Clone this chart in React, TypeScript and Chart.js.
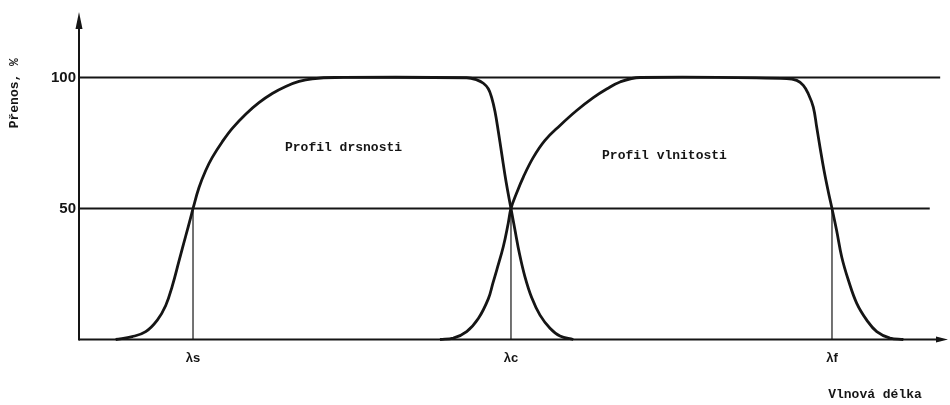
import React, { useEffect, useRef } from "react";
import { Chart, registerables } from "chart.js";

Chart.register(...registerables);

// Tick positions and labels
const xTickValues = [13.12, 49.71, 86.65];
const xTickLabels = ["λs", "λc", "λf"];
const yTickValues = [50, 100];

// Roughness profile (Profil drsnosti)
const roughX = [4.22, 6.13, 7.68, 9.01, 9.98, 10.74, 11.51, 12.28, 12.85, 13.12, 13.81, 14.58, 15.34, 16.49, 17.64, 19.18, 20.71, 22.24, 23.79, 25.32, 26.85, 29.46, 44.61, 45.77, 46.53, 47.1, 47.49, 47.87, 48.25, 48.64, 49.14, 49.71, 50.17, 50.67, 51.32, 52.09, 53.05, 54.2, 55.35, 56.88];
const roughY = [0, 1.1, 3.0, 7.4, 13.0, 20.5, 30.0, 39.5, 46.5, 50, 58.0, 64.5, 69.5, 75.5, 80.6, 86.0, 90.4, 93.9, 96.6, 98.5, 99.5, 100, 99.9, 99.1, 97.8, 95.7, 92.3, 87.0, 79.5, 71.0, 60.3, 50, 41.8, 33.0, 23.9, 16.0, 9.3, 4.3, 1.3, 0];

// Waviness profile (Profil vlnitosti)
const waveX = [41.54, 43.07, 44.61, 45.95, 47.1, 47.63, 48.07, 48.83, 49.4, 49.71, 50.37, 51.13, 52.28, 53.62, 55.35, 57.27, 59.18, 60.72, 62.26, 64.56, 81.44, 82.59, 83.35, 83.92, 84.5, 84.89, 85.27, 85.73, 86.22, 86.65, 87.19, 87.77, 88.53, 89.5, 90.65, 91.8, 93.33, 94.86];
const waveY = [0, 0.5, 3.0, 8.0, 15.5, 21.5, 26.5, 35.5, 44.5, 50, 56.0, 62.0, 69.5, 76.0, 81.7, 87.4, 92.3, 95.6, 98.3, 100, 99.6, 98.9, 97.0, 93.8, 88.7, 81.1, 73.4, 64.6, 56.5, 50, 41.5, 31.5, 22.7, 13.8, 7.4, 3.0, 0.5, 0];

// Horizontal reference levels and where they end
const levelValues = [100, 50];
const levelEnds = [99.1, 97.9];

// Annotation texts
const regionLabels = ["Profil drsnosti", "Profil vlnitosti"];
const regionLabelX = [30.44, 67.37];
const regionLabelY = [73.3, 70.3];
const xAxisTitle = "Vlnová délka";
const yAxisTitle = "Přenos, %";

const INK = "#151515";

const axesPlugin = {
  id: "arrowAxes",
  beforeDatasetsDraw(chart: any) {
    const { ctx, chartArea } = chart;
    const { left, right, top, bottom } = chartArea;
    ctx.save();
    ctx.strokeStyle = INK;
    ctx.fillStyle = INK;
    ctx.lineWidth = 2;
    // y axis
    ctx.beginPath();
    ctx.moveTo(left, bottom + 1);
    ctx.lineTo(left, top + 8);
    ctx.stroke();
    ctx.beginPath();
    ctx.moveTo(left, top);
    ctx.lineTo(left - 3.5, top + 17);
    ctx.lineTo(left + 3.5, top + 17);
    ctx.closePath();
    ctx.fill();
    // x axis
    ctx.beginPath();
    ctx.moveTo(left, bottom);
    ctx.lineTo(right - 6, bottom);
    ctx.stroke();
    ctx.beginPath();
    ctx.moveTo(right, bottom);
    ctx.lineTo(right - 12, bottom - 3);
    ctx.lineTo(right - 12, bottom + 3);
    ctx.closePath();
    ctx.fill();
    ctx.restore();
  },
  afterDraw(chart: any) {
    const { ctx, chartArea, scales } = chart;
    const xs = scales.x;
    const ys = scales.y;
    ctx.save();
    ctx.fillStyle = INK;
    ctx.font = 'bold 13px "Liberation Mono"';
    ctx.textAlign = "center";
    ctx.textBaseline = "middle";
    regionLabels.forEach((t, i) => {
      ctx.fillText(t, xs.getPixelForValue(regionLabelX[i]), ys.getPixelForValue(regionLabelY[i]));
    });
    ctx.fillText(xAxisTitle, chartArea.right - 73, chartArea.bottom + 55);
    ctx.save();
    ctx.translate(15, ys.getPixelForValue(94));
    ctx.rotate(-Math.PI / 2);
    ctx.fillText(yAxisTitle, 0, 0);
    ctx.restore();
    ctx.restore();
  },
};

export default function App() {
  const ref = useRef<HTMLCanvasElement | null>(null);

  useEffect(() => {
    if (!ref.current) return;
    const thinLine = (data: any[], width: number) => ({
      data,
      borderColor: INK,
      borderWidth: width,
      pointRadius: 0,
      fill: false,
      tension: 0,
      clip: false,
    });
    const curve = (label: string, xs: number[], ys: number[]) => ({
      label,
      data: xs.map((x, i) => ({ x, y: ys[i] })),
      borderColor: INK,
      borderWidth: 2.8,
      pointRadius: 0,
      fill: false,
      tension: 0.4,
      clip: false,
    });
    const datasets: any[] = [
      curve("Profil drsnosti", roughX, roughY),
      curve("Profil vlnitosti", waveX, waveY),
    ];
    levelValues.forEach((v, i) => {
      datasets.push(thinLine([{ x: 0, y: v }, { x: levelEnds[i], y: v }], 1.8));
    });
    xTickValues.forEach((v) => {
      datasets.push(thinLine([{ x: v, y: 0 }, { x: v, y: 50 }], 1.2));
    });

    const chart = new Chart(ref.current, {
      type: "line",
      data: { datasets },
      plugins: [axesPlugin],
      options: {
        animation: false,
        responsive: false,
        layout: { padding: { top: 12, right: 2, left: 0, bottom: 0 } },
        plugins: { legend: { display: false }, tooltip: { enabled: false }, title: { display: false } },
        scales: {
          x: {
            type: "linear",
            min: 0,
            max: 100,
            grid: { display: false, drawTicks: false },
            border: { display: false },
            afterFit: (s: any) => {
              s.height = 65.5;
            },
            afterBuildTicks: (s: any) => {
              s.ticks = xTickValues.map((v) => ({ value: v }));
            },
            ticks: {
              padding: 11,
              color: INK,
              font: { family: '"Liberation Sans"', size: 13, weight: "bold" },
              maxRotation: 0,
              autoSkip: false,
              callback: (v: any) => {
                const i = xTickValues.indexOf(Number(v));
                return i >= 0 ? xTickLabels[i] : "";
              },
            },
          },
          y: {
            type: "linear",
            min: 0,
            max: 125,
            grid: { display: false, drawTicks: false },
            border: { display: false },
            afterFit: (s: any) => {
              s.width = 79;
            },
            afterBuildTicks: (s: any) => {
              s.ticks = yTickValues.map((v) => ({ value: v }));
            },
            ticks: {
              padding: 3,
              color: INK,
              font: { family: '"Liberation Sans"', size: 15, weight: "bold" },
              callback: (v: any) => String(v),
            },
          },
        },
      },
    } as any);
    return () => chart.destroy();
  }, []);

  return (
    <div style={{ position: "fixed", left: 0, top: 0, width: 950, height: 405, background: "#fff" }}>
      <canvas ref={ref} width={950} height={405} style={{ width: 950, height: 405, display: "block" }} />
    </div>
  );
}
